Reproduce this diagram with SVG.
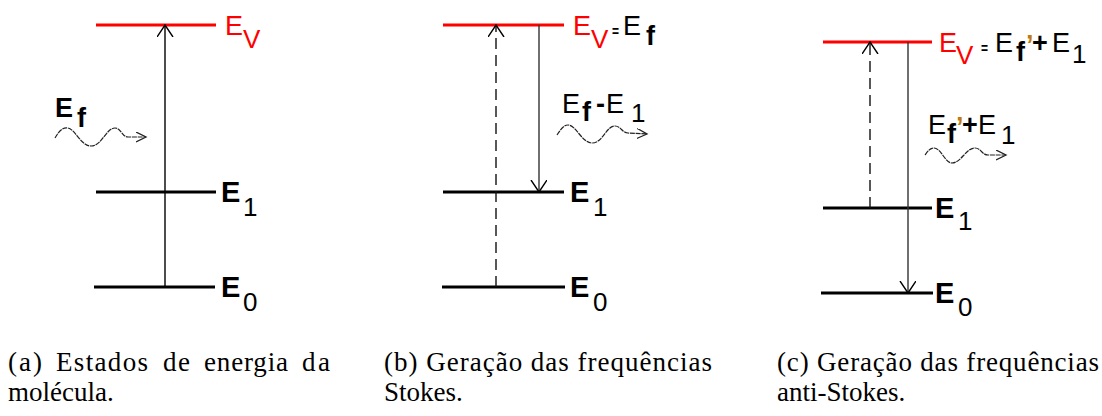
<svg xmlns="http://www.w3.org/2000/svg" width="1102" height="416" viewBox="0 0 1102 416">
<style>
.lvl{stroke:#000;stroke-width:3;fill:none}
.ev{stroke:#f00;stroke-width:3;fill:none}
.arr{stroke:#000;stroke-width:1.4;fill:none}
.arrg{stroke:#333;stroke-width:1.4;fill:none}
.dash{stroke:#111;stroke-width:1.4;fill:none;stroke-dasharray:11 6}
.wave{stroke:#222;stroke-width:1.2;fill:none;stroke-dasharray:5 0.8}
.s{font-family:"Liberation Sans",Arial,sans-serif;font-size:27px;fill:#000}
.sub{font-size:26px}
.B{font-weight:bold;font-size:29px}
.b{font-weight:bold}
.eq{font-weight:900;font-size:17px}
.red{fill:#f00}
.pr{fill:#c07a10}
.cap{font-family:"Liberation Serif","Times New Roman",serif;font-size:27px;fill:#000}
</style>
<defs>
<marker id="head" markerUnits="userSpaceOnUse" markerWidth="20" markerHeight="20" refX="12" refY="8" orient="auto" viewBox="0 0 20 20">
<path d="M0,0 L12,8 L0,16" fill="none" stroke="#000" stroke-width="1.4"/>
</marker>
<marker id="wh" markerUnits="userSpaceOnUse" markerWidth="14" markerHeight="14" refX="10" refY="5" orient="auto" viewBox="0 0 14 14">
<path d="M0,0 L10,5 L0,10" fill="none" stroke="#222" stroke-width="1.3"/>
</marker>
</defs>

<!-- Panel a -->
<g id="a-ev">
<line class="ev" x1="96" y1="25" x2="216" y2="25"/>
<text class="s red" x="225" y="35">E</text><text class="s red sub" x="243" y="48">V</text>
</g>
<g id="a-e1">
<line class="lvl" x1="96" y1="192" x2="216" y2="192"/>
<text class="s B" x="221" y="202">E</text><text class="s sub" x="243" y="216">1</text>
</g>
<g id="a-e0">
<line class="lvl" x1="94" y1="287" x2="215" y2="287"/>
<text class="s B" x="221" y="297">E</text><text class="s sub" x="243" y="311">0</text>
</g>
<g id="a-photon">
<text class="s b" x="55" y="117">E</text><text class="s b" x="77" y="127" font-size="26">f</text>
</g>

<!-- Panel b -->
<g id="b-ev">
<line class="ev" x1="443" y1="25" x2="564" y2="25"/>
<text class="s red" x="573" y="35">E</text><text class="s red sub" x="591" y="48">V</text>
<text class="s eq" x="612" y="37" textLength="7" lengthAdjust="spacingAndGlyphs">=</text>
<text class="s" x="623" y="35">E</text><text class="s b" x="646" y="45" font-size="26">f</text>
</g>
<g id="b-e1">
<line class="lvl" x1="443" y1="192" x2="564" y2="192"/>
<text class="s B" x="570" y="202">E</text><text class="s sub" x="593" y="216">1</text>
</g>
<g id="b-e0">
<line class="lvl" x1="442" y1="287" x2="565" y2="287"/>
<text class="s B" x="570" y="297">E</text><text class="s sub" x="593" y="311">0</text>
</g>
<g id="b-photon">
<text class="s" x="562" y="113">E</text><text class="s b" x="582" y="121" font-size="26">f</text>
<text class="s b" x="596" y="113" font-size="24">-</text>
<text class="s" x="606" y="113">E</text><text class="s sub" x="631" y="122">1</text>
</g>

<!-- Panel c -->
<g id="c-ev">
<line class="ev" x1="823" y1="42" x2="932" y2="42"/>
<text class="s red" x="939" y="52">E</text><text class="s red sub" x="956" y="64">V</text>
<text class="s eq" x="981" y="54" textLength="7" lengthAdjust="spacingAndGlyphs">=</text>
<text class="s" x="995" y="52">E</text><text class="s b" x="1016" y="61" font-size="26">f</text>
<text class="s b pr" x="1026" y="54" font-size="22">’</text>
<text class="s b" x="1032" y="52" font-size="22">+</text>
<text class="s" x="1052" y="52">E</text><text class="s sub" x="1072" y="63">1</text>
</g>
<g id="c-e1">
<line class="lvl" x1="823" y1="208" x2="932" y2="208"/>
<text class="s B" x="935" y="218">E</text><text class="s sub" x="958" y="230">1</text>
</g>
<g id="c-e0">
<line class="lvl" x1="821" y1="293" x2="933" y2="293"/>
<text class="s B" x="935" y="303">E</text><text class="s sub" x="958" y="316">0</text>
</g>
<g id="c-photon">
<text class="s" x="928" y="134">E</text><text class="s b" x="947" y="143" font-size="26">f</text>
<text class="s b pr" x="956" y="136" font-size="22">’</text>
<text class="s b" x="962" y="134" font-size="22">+</text>
<text class="s" x="978" y="134">E</text><text class="s sub" x="1001" y="144">1</text>
</g>

<!-- Connectors -->
<g id="connectors">
<line class="arr" x1="165" y1="287" x2="165" y2="25" marker-end="url(#head)"/>
<path class="wave" d="M55,138 C59,131 63,127 68,128 C75,129 81,146 91,146 C102,146 106,128 115,128 C121,128 122,137 128,137 L146,137" marker-end="url(#wh)"/>

<line class="dash" x1="496" y1="287" x2="496" y2="25" marker-end="url(#head)"/>
<line class="arrg" x1="539" y1="25" x2="539" y2="192" marker-end="url(#head)"/>
<path class="wave" d="M557,135 C561,129 564,125 568,125 C576,125 582,143 592,143 C603,143 606,126 615,126 C621,126 622,133 628,133 L647,134" marker-end="url(#wh)"/>

<line class="dash" x1="870" y1="208" x2="870" y2="42" marker-end="url(#head)"/>
<line class="arrg" x1="908" y1="42" x2="908" y2="293" marker-end="url(#head)"/>
<path class="wave" d="M925,155 C928,151 930,148 934,148 C941,148 945,163 952,163 C961,163 966,148 975,148 C981,148 982,155 988,155 L1006,155" marker-end="url(#wh)"/>
</g>

<!-- Captions -->
<g id="caption-a" class="cap">
<text x="8" y="371" textLength="34" lengthAdjust="spacing">(a)</text>
<text x="56" y="371" textLength="92" lengthAdjust="spacing">Estados</text>
<text x="163" y="371" textLength="27" lengthAdjust="spacing">de</text>
<text x="204" y="371" textLength="84" lengthAdjust="spacing">energia</text>
<text x="302" y="371" textLength="28" lengthAdjust="spacing">da</text>
<text x="8" y="401">molécula.</text>
</g>
<g id="caption-b" class="cap">
<text x="384" y="371" textLength="328" lengthAdjust="spacing">(b) Geração das frequências</text>
<text x="384" y="401">Stokes.</text>
</g>
<g id="caption-c" class="cap">
<text x="777" y="371" textLength="322" lengthAdjust="spacing">(c) Geração das frequências</text>
<text x="777" y="401">anti-Stokes.</text>
</g>
</svg>
